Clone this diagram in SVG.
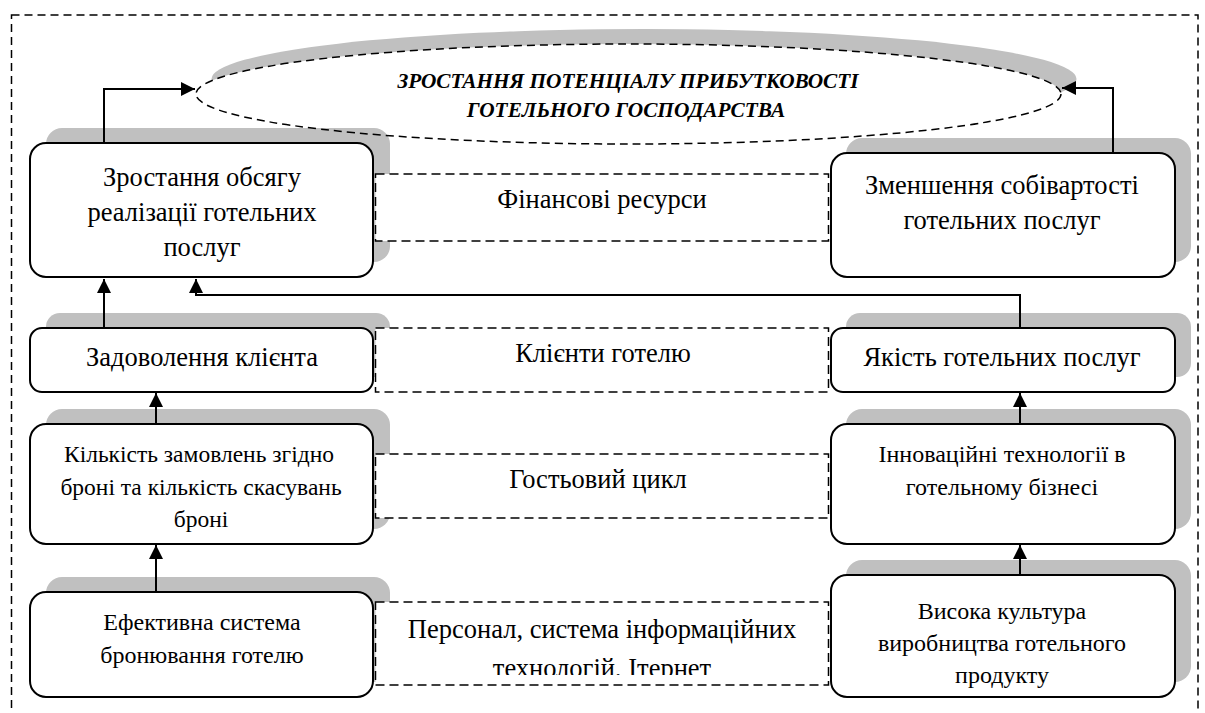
<svg xmlns="http://www.w3.org/2000/svg" width="1205" height="713" viewBox="0 0 1205 713">
  <style>
    .shadow { fill: #c0c0c0; }
    .box { fill: #ffffff; stroke: #000000; stroke-width: 2; }
    .link { fill: #ffffff; stroke: #000000; stroke-width: 1.5; stroke-dasharray: 9 5; }
    .txt { font-family: "Liberation Serif", "Times New Roman", serif; font-size: 26.5px; fill: #000000; text-anchor: middle; }
    .sm { font-size: 24px; }
    .xs { font-size: 23.5px; }
    .goal { font-family: "Liberation Serif", "Times New Roman", serif; font-size: 21.3px; font-weight: bold; font-style: italic; fill: #000000; text-anchor: middle; }
    .wire { fill: none; stroke: #000000; stroke-width: 2; }
    .frame { fill: none; stroke: #000000; stroke-width: 1.5; stroke-dasharray: 8 5; }
  </style>
  <defs>
    <marker id="arrow" markerUnits="userSpaceOnUse" markerWidth="15" markerHeight="15" refX="14" refY="7" orient="auto">
      <path d="M0,0 L14,7 L0,14 Z" fill="#000000"/>
    </marker>
    <clipPath id="clip-staff">
      <rect x="376" y="603" width="452" height="72"/>
    </clipPath>
  </defs>

  <rect width="1205" height="713" fill="#ffffff"/>

  <!-- outer dashed frame (bottom edge runs past the canvas) -->
  <rect class="frame" x="11.5" y="15" width="1186.5" height="720"/>

  <!-- backdrop of the goal ellipse: shadow and white fill -->
  <g id="goal-backdrop">
    <ellipse class="shadow" cx="644" cy="79" rx="432.5" ry="50"/>
    <ellipse cx="628.5" cy="94" rx="432.5" ry="50" fill="#ffffff"/>
  </g>

  <!-- left column -->
  <g id="node-sales-growth">
    <rect class="shadow" x="46" y="128" width="344" height="134" rx="16"/>
    <rect class="box" x="30" y="143" width="343" height="134" rx="16"/>
    <text class="txt" x="202" y="186">Зростання обсягу</text>
    <text class="txt" x="202" y="221">реалізації готельних</text>
    <text class="txt" x="202" y="256">послуг</text>
  </g>
  <g id="node-client-satisfaction">
    <rect class="shadow" x="46" y="313" width="344" height="64" rx="14"/>
    <rect class="box" x="30" y="328" width="343" height="64" rx="12"/>
    <text class="txt" x="202" y="366">Задоволення клієнта</text>
  </g>
  <g id="node-bookings">
    <rect class="shadow" x="46" y="409" width="344" height="120" rx="16"/>
    <rect class="box" x="30" y="424" width="343" height="120" rx="16"/>
    <text class="txt xs" x="199" y="462">Кількість замовлень згідно</text>
    <text class="txt xs" x="201" y="495">броні та кількість скасувань</text>
    <text class="txt xs" x="201" y="527">броні</text>
  </g>
  <g id="node-booking-system">
    <rect class="shadow" x="46" y="577" width="344" height="105" rx="16"/>
    <rect class="box" x="30" y="592" width="343" height="105" rx="16"/>
    <text class="txt sm" x="202" y="630">Ефективна система</text>
    <text class="txt sm" x="202" y="663">бронювання готелю</text>
  </g>

  <!-- right column -->
  <g id="node-cost-reduction">
    <rect class="shadow" x="846" y="138" width="345" height="124" rx="16"/>
    <rect class="box" x="831" y="153" width="344" height="124" rx="16"/>
    <text class="txt" x="1002" y="194">Зменшення собівартості</text>
    <text class="txt" x="1002" y="229">готельних послуг</text>
  </g>
  <g id="node-service-quality">
    <rect class="shadow" x="846" y="313" width="345" height="64" rx="14"/>
    <rect class="box" x="831" y="328" width="344" height="64" rx="12"/>
    <text class="txt" x="1002" y="366">Якість готельних послуг</text>
  </g>
  <g id="node-innovation">
    <rect class="shadow" x="846" y="409" width="345" height="120" rx="16"/>
    <rect class="box" x="831" y="424" width="344" height="120" rx="16"/>
    <text class="txt sm" x="1002" y="462">Інноваційні технології в</text>
    <text class="txt sm" x="1002" y="495">готельному бізнесі</text>
  </g>
  <g id="node-production-culture">
    <rect class="shadow" x="846" y="560" width="345" height="122" rx="16"/>
    <rect class="box" x="831" y="575" width="344" height="122" rx="16"/>
    <text class="txt sm" x="1002" y="619">Висока культура</text>
    <text class="txt sm" x="1002" y="651">виробництва готельного</text>
    <text class="txt sm" x="1002" y="683">продукту</text>
  </g>

  <!-- dashed resource bands between the columns -->
  <g id="node-finance">
    <rect class="link" x="375.5" y="174" width="453" height="67"/>
    <text class="txt" x="602" y="208">Фінансові ресурси</text>
  </g>
  <g id="node-clients">
    <rect class="link" x="375.5" y="328" width="453" height="64"/>
    <text class="txt" x="603" y="362">Клієнти готелю</text>
  </g>
  <g id="node-guest-cycle">
    <rect class="link" x="375.5" y="454" width="453" height="64"/>
    <text class="txt" x="598" y="488">Гостьовий цикл</text>
  </g>
  <g id="node-staff">
    <rect class="link" x="375.5" y="602" width="453" height="83"/>
    <g clip-path="url(#clip-staff)">
      <text class="txt" x="602" y="638">Персонал, система інформаційних</text>
      <text class="txt" x="602" y="677">технологій, Ітернет</text>
    </g>
  </g>

  <!-- goal ellipse outline and caption -->
  <g id="node-goal">
    <ellipse cx="628.5" cy="94" rx="432.5" ry="50" fill="none" stroke="#000000" stroke-width="1.5" stroke-dasharray="8 5"/>
    <text class="goal" x="628" y="88">ЗРОСТАННЯ ПОТЕНЦІАЛУ ПРИБУТКОВОСТІ</text>
    <text class="goal" x="626" y="117">ГОТЕЛЬНОГО ГОСПОДАРСТВА</text>
  </g>

  <!-- connectors -->
  <g id="connectors">
    <path class="wire" d="M104,143 V89 H195" marker-end="url(#arrow)"/>
    <path class="wire" d="M1113,153 V88 H1062" marker-end="url(#arrow)"/>
    <path class="wire" d="M104,328 V279" marker-end="url(#arrow)"/>
    <path class="wire" d="M1020,328 V295 H196 V279" marker-end="url(#arrow)"/>
    <path class="wire" d="M156,424 V393" marker-end="url(#arrow)"/>
    <path class="wire" d="M156,592 V545" marker-end="url(#arrow)"/>
    <path class="wire" d="M1020,424 V393" marker-end="url(#arrow)"/>
    <path class="wire" d="M1020,575 V545" marker-end="url(#arrow)"/>
  </g>
</svg>
